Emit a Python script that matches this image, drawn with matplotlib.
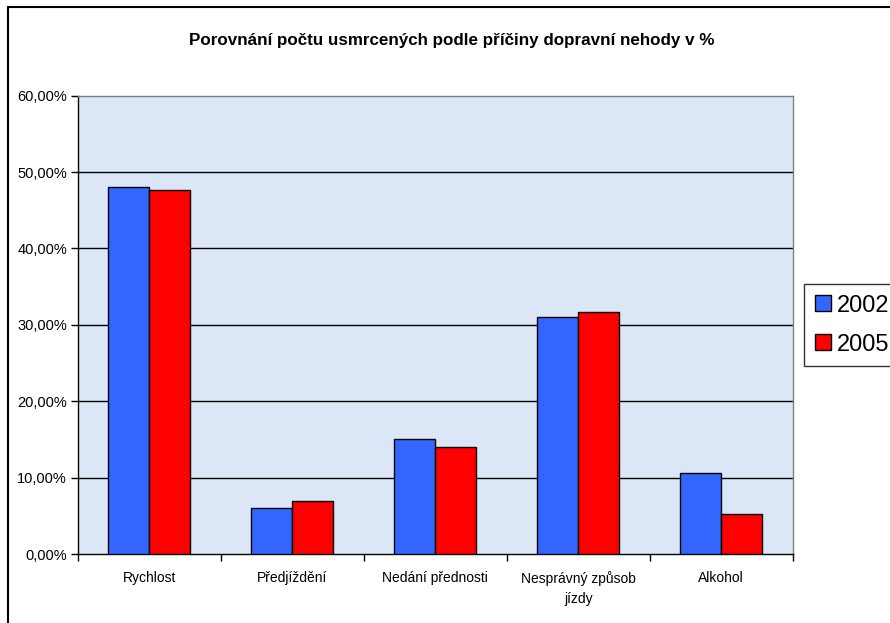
import matplotlib
matplotlib.use("Agg")
import matplotlib.pyplot as plt
import matplotlib.patches as mpatches
import numpy as np

categories = ["Rychlost", "Předjíždění", "Nedání přednosti", "Nesprávný způsob\njízdy", "Alkohol"]
values_2002 = [48.0, 6.0, 15.0, 31.0, 10.6]
values_2005 = [47.6, 6.9, 14.0, 31.7, 5.3]
series_labels = ["2002", "2005"]
yticks = [0, 10, 20, 30, 40, 50, 60]
ytick_labels = ["0,00%", "10,00%", "20,00%", "30,00%", "40,00%", "50,00%", "60,00%"]
title = "Porovnání počtu usmrcených podle příčiny dopravní nehody v %"

plt.rcParams['font.family'] = ['Liberation Sans', 'DejaVu Sans']

W, H = 890, 623
fig = plt.figure(figsize=(W / 100, H / 100), dpi=100)
fig.patch.set_facecolor("white")

# outer chart frame (left and top visible, rest cut off)
frame = mpatches.Rectangle((8 / W, -0.1), 2.0, 1 - 7 / H + 0.1, transform=fig.transFigure,
                           fill=False, edgecolor="black", linewidth=1.5, zorder=0)
fig.patches.append(frame)

ax = fig.add_axes([78 / W, (H - 554) / H, (792.7 - 78) / W, (554 - 95.7) / H])
ax.set_facecolor("#dbe7f6")

x = np.arange(len(categories)) + 0.5
bw = 0.287
ax.bar(x - bw / 2, values_2002, width=bw, color="#3366ff", edgecolor="black", linewidth=1, zorder=3, label=series_labels[0])
ax.bar(x + bw / 2, values_2005, width=bw, color="#ff0000", edgecolor="black", linewidth=1, zorder=3, label=series_labels[1])

ax.set_xlim(0, len(categories))
ax.set_ylim(0, 60)
ax.set_yticks(yticks)
ax.set_yticklabels(ytick_labels, fontsize=10.5)
for yv in yticks[1:-1]:
    ax.axhline(yv, color="black", linewidth=1, zorder=1)

ax.set_xticks(np.arange(len(categories) + 1))
ax.set_xticklabels([])
ax.set_xticks(x, minor=True)
ax.set_xticklabels(categories, minor=True, fontsize=10, linespacing=1.55)
ax.tick_params(axis="x", which="minor", length=0, pad=12)
ax.tick_params(axis="x", which="major", length=5, direction="out", width=1)
ax.tick_params(axis="y", length=5, direction="out", width=1, pad=3)

for s in ["top", "right"]:
    ax.spines[s].set_color("#808080")
    ax.spines[s].set_linewidth(1)
for s in ["left", "bottom"]:
    ax.spines[s].set_color("black")
    ax.spines[s].set_linewidth(1)

fig.text(452 / W, 1 - 40 / H, title, ha="center", va="center", fontsize=12.25, fontweight="bold")

leg = ax.legend(loc="upper left", bbox_to_anchor=(804 / W, 1 - 284 / H), bbox_transform=fig.transFigure,
                fontsize=17, frameon=True, fancybox=False, shadow=False,
                handlelength=0.68, handleheight=0.68, handletextpad=0.25,
                labelspacing=0.72, borderpad=0.45, borderaxespad=0)
leg.get_frame().set_edgecolor("black")
leg.get_frame().set_linewidth(1)

fig.savefig("out.png", dpi=100)
